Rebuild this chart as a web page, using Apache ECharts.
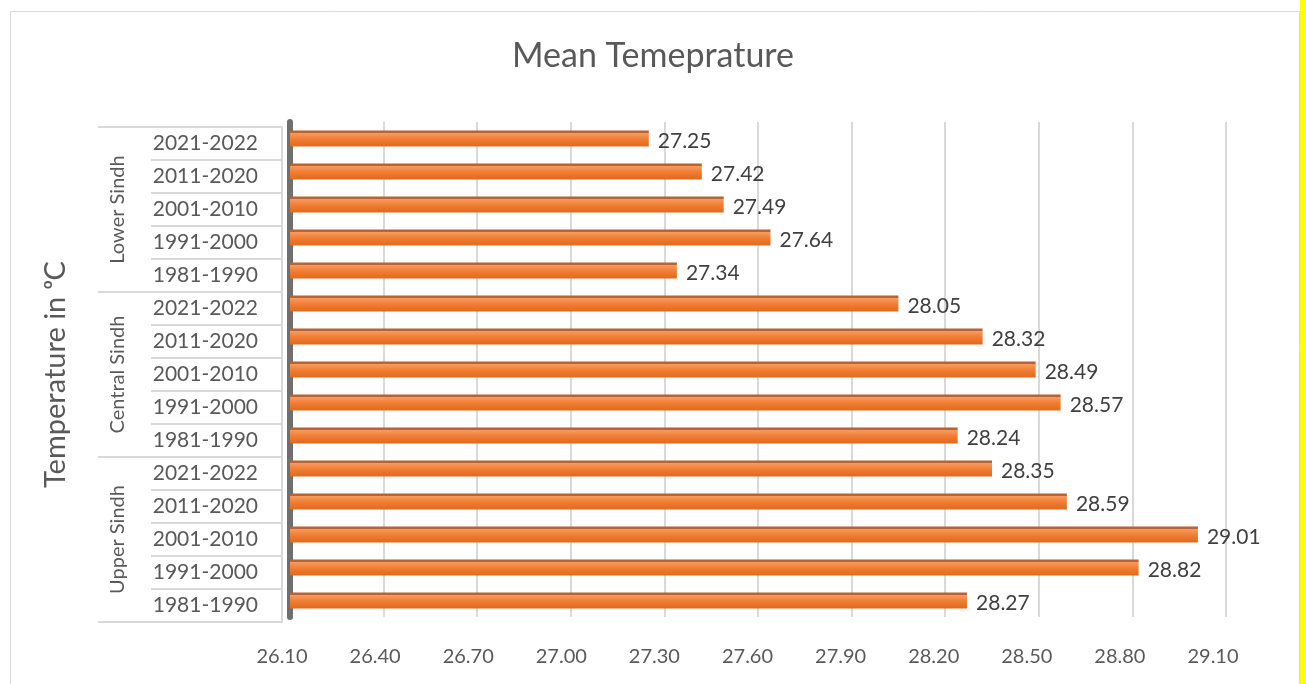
<!DOCTYPE html>
<html>
<head>
<meta charset="utf-8">
<script src="https://cdn.jsdelivr.net/npm/echarts@6/dist/echarts.min.js"></script>
<style>
html,body{margin:0;padding:0;background:#fff;}
#c{width:1306px;height:684px;}
</style>
</head>
<body>
<div id="c"></div>
<script>
// ---- data ----
const regions = ['Lower Sindh', 'Central Sindh', 'Upper Sindh'];
const periods = ['2021-2022', '2011-2020', '2001-2010', '1991-2000', '1981-1990'];
const lowerSindh = [27.25, 27.42, 27.49, 27.64, 27.34];
const centralSindh = [28.05, 28.32, 28.49, 28.57, 28.24];
const upperSindh = [28.35, 28.59, 29.01, 28.82, 28.27];
const xMin = 26.10, xMax = 29.10, xStep = 0.30;

const categories = [];
const values = [];
[lowerSindh, centralSindh, upperSindh].forEach(function (arr) {
  periods.forEach(function (p, i) { categories.push(p); values.push(arr[i]); });
});

const FONT = 'Lato, "Open Sans", "Noto Sans", sans-serif';
const chart = echarts.init(document.getElementById('c'), null, {renderer: 'canvas'});

const barGrad = new echarts.graphic.LinearGradient(0, 0, 0, 1, [
  {offset: 0, color: '#b5602e'},
  {offset: 0.14, color: '#b8653a'},
  {offset: 0.18, color: '#f79a5c'},
  {offset: 0.55, color: '#f07d33'},
  {offset: 1, color: '#e0691c'}
]);

chart.setOption({
  animation: false,
  backgroundColor: '#ffffff',
  title: {
    text: 'Mean Temeprature',
    left: 'center',
    top: 34,
    textStyle: {fontFamily: FONT, fontSize: 34, fontWeight: 'normal', color: '#595959'}
  },
  graphic: [
    {type: 'rect', shape: {x: 10.5, y: 11.5, width: 1289, height: 700}, style: {fill: 'none', stroke: '#d9d9d9', lineWidth: 1}, silent: true},
    {type: 'rect', shape: {x: 1300, y: 0, width: 6, height: 684}, style: {fill: '#ffff00'}, silent: true}
  ],
  grid: [
    {left: 290, top: 122, width: 936, height: 495, outerBoundsMode: 'none', containLabel: false},
    {left: 282, top: 127, width: 931, height: 495, outerBoundsMode: 'none', containLabel: false}
  ],
  xAxis: [
    {
      gridIndex: 0, type: 'value', min: xMin, max: xMax, interval: xStep,
      axisLabel: {show: false}, axisLine: {show: false}, axisTick: {show: false},
      splitLine: {show: true, lineStyle: {color: '#d9d9d9', width: 2}}
    },
    {
      gridIndex: 1, type: 'value', min: xMin, max: xMax, interval: xStep,
      axisLine: {show: false}, axisTick: {show: false}, splitLine: {show: false},
      axisLabel: {
        margin: 25, color: '#595959', fontFamily: FONT, fontSize: 20,
        formatter: function (v) { return v.toFixed(2); }
      }
    }
  ],
  yAxis: [
    {
      gridIndex: 0, type: 'category', inverse: true, data: categories, position: 'left',
      axisLabel: {show: false}, axisTick: {show: false},
      axisLine: {show: true, lineStyle: {color: '#6f6f6f', width: 6}},
      splitLine: {show: false}
    },
    {
      gridIndex: 1, type: 'category', inverse: true, data: categories, position: 'left',
      axisLine: {show: true, lineStyle: {color: '#d9d9d9', width: 2}},
      axisTick: {show: true, interval: 0, length: 131, lineStyle: {color: '#d9d9d9', width: 2}},
      axisLabel: {interval: 0, margin: 24, color: '#595959', fontFamily: FONT, fontSize: 21}
    },
    {
      gridIndex: 1, type: 'category', inverse: true, data: regions, position: 'left', offset: 0,
      axisLine: {show: false},
      axisTick: {show: true, interval: 0, length: 184, lineStyle: {color: '#d9d9d9', width: 2}},
      axisLabel: {interval: 0, rotate: 90, margin: 154, color: '#595959', fontFamily: FONT, fontSize: 20},
      name: 'Temperature in \u1D52C', nameLocation: 'middle', nameRotate: 90, nameGap: 212,
      nameTextStyle: {color: '#595959', fontFamily: FONT, fontSize: 29}
    }
  ],
  series: [{
    type: 'bar',
    xAxisIndex: 0, yAxisIndex: 0,
    data: values,
    barWidth: 16,
    itemStyle: {color: barGrad},
    label: {
      show: true, position: 'right', distance: 9, offset: [0, 3],
      color: '#404040', fontFamily: FONT, fontSize: 21,
      formatter: function (p) { return p.value.toFixed(2); }
    }
  }]
});
</script>
</body>
</html>
